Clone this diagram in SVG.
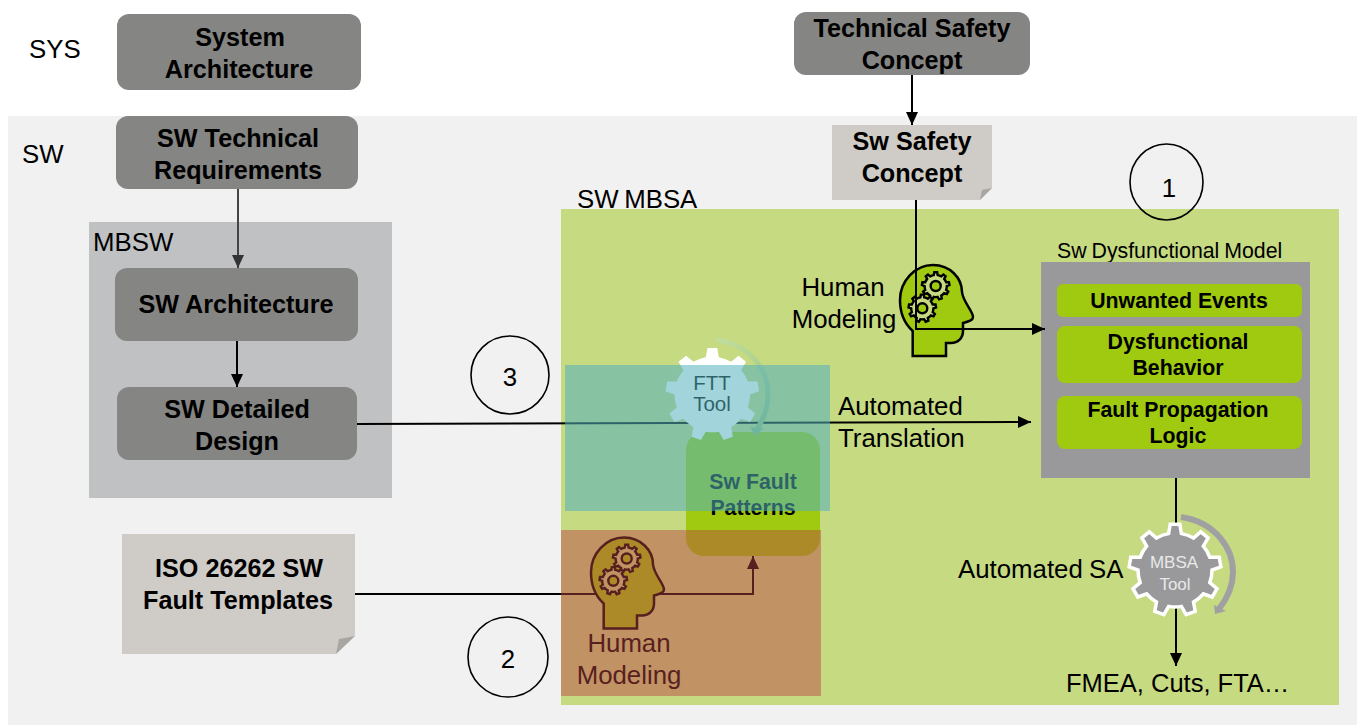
<svg xmlns="http://www.w3.org/2000/svg" xmlns:xlink="http://www.w3.org/1999/xlink" width="1362" height="725" viewBox="0 0 1362 725">
<style>
text{font-family:"Liberation Sans",Arial,sans-serif;fill:#000}
.t{font-size:25.8px}
.c{text-anchor:middle}
.b{font-size:25.2px;font-weight:bold;text-anchor:middle}
.g{font-size:21.3px;font-weight:bold;text-anchor:middle}
.dark{fill:#858583}
.note{fill:#cfcbc6}
.fold{fill:#a8a6a2}
.lime{fill:#9fca10}
.ln{fill:none;stroke:#000;stroke-width:2}
.num{fill:none;stroke:#000;stroke-width:1.6}
.head{fill:#9fca10;stroke:#000;stroke-width:2.5}
</style>
<defs>
<marker id="a" markerUnits="userSpaceOnUse" markerWidth="14" markerHeight="14" refX="13" refY="6" orient="auto"><path d="M0 0L13 6L0 12Z" fill="#000"/></marker>
<marker id="ag" markerUnits="userSpaceOnUse" markerWidth="14" markerHeight="14" refX="13" refY="6" orient="auto"><path d="M0 0L13 6L0 12Z" fill="#333"/></marker>
<linearGradient id="arcG" gradientUnits="userSpaceOnUse" x1="717" y1="340" x2="757" y2="433"><stop offset="0" stop-color="#c0dd9c"/><stop offset="1" stop-color="#93bd78"/></linearGradient>
<path id="gear" d="M-6.4-36.4L-4.8-45.7L4.8-45.7L6.4-36.4A37 37 0 0 1 18.5-32L25.7-38.1L33.1-32L28.3-23.8A37 37 0 0 1 34.8-12.7L44.2-12.7L45.9-3.2L37 0A37 37 0 0 1 34.8 12.7L42 18.7L37.2 27L28.3 23.8A37 37 0 0 1 18.5 32L20.2 41.3L11.1 44.6L6.4 36.4A37 37 0 0 1 -6.4 36.4L-11.1 44.6L-20.2 41.3L-18.5 32A37 37 0 0 1 -28.3 23.8L-37.2 27L-42 18.7L-34.8 12.7A37 37 0 0 1 -37 0L-45.9-3.2L-44.2-12.7L-34.8-12.7A37 37 0 0 1 -28.3-23.8L-33.1-32L-25.7-38.1L-18.5-32A37 37 0 0 1 -6.4-36.4Z"/>
<g id="headIcon">
<path class="head" d="M912.7 356V331C905 324 900 313 900 300C900 281 915 265 933 265C950 265 962 278 962 292C963 302 973 311 973 317C973 320 970 321 963 323V331C963 338 958 343 951 343H946V356Z"/>
<g transform="translate(935.7 286) scale(.3)"><use xlink:href="#gear" fill="#c6da82" stroke="#000" stroke-width="8"/></g>
<circle cx="935.7" cy="286" r="5" fill="#9fca10" stroke="#000" stroke-width="2.4"/>
<g transform="translate(922.3 308.3) scale(.3)"><use xlink:href="#gear" fill="#c6da82" stroke="#000" stroke-width="8"/></g>
<circle cx="922.3" cy="308.3" r="5" fill="#9fca10" stroke="#000" stroke-width="2.4"/>
</g>
</defs>

<rect width="1362" height="725" fill="#fff"/>
<g id="sw-region"><rect x="8" y="116" width="1349" height="609" fill="#f1f1f1"/><text class="t" x="22" y="163">SW</text></g>
<g id="sys-label"><text class="t" x="29" y="58">SYS</text></g>
<g id="mbsw-region"><rect x="89" y="222" width="303" height="276" fill="#c0c1c3"/><text class="t" x="93" y="251">MBSW</text></g>
<g id="mbsa-region"><rect x="561" y="209" width="778" height="496" fill="#c6da82"/><text class="t" x="577" y="208" word-spacing="-1.5">SW MBSA</text></g>

<g id="system-architecture"><rect class="dark" x="117" y="14" width="244" height="76" rx="12"/><text class="b" x="240" y="46">System</text><text class="b" x="239" y="78">Architecture</text></g>
<g id="technical-safety-concept"><rect class="dark" x="794" y="12" width="236" height="63" rx="12"/><text class="b" x="912" y="37">Technical Safety</text><text class="b" x="912" y="69">Concept</text></g>
<g id="sw-technical-requirements"><rect class="dark" x="116" y="116" width="242" height="73" rx="12"/><text class="b" x="238" y="147">SW Technical</text><text class="b" x="238" y="179">Requirements</text></g>
<g id="sw-architecture"><rect class="dark" x="115" y="268" width="243" height="73" rx="12"/><text class="b" x="236" y="313">SW Architecture</text></g>
<g id="sw-detailed-design"><rect class="dark" x="117" y="387" width="240" height="73" rx="12"/><text class="b" x="237" y="418">SW Detailed</text><text class="b" x="237" y="450">Design</text></g>
<g id="iso-templates"><path class="note" d="M122 534H355V636L336 654H122Z"/><path class="fold" d="M336 654L339 639L355 636Z"/><text class="b" x="239" y="577">ISO 26262 SW</text><text class="b" x="238" y="609">Fault Templates</text></g>
<g id="sw-safety-concept"><path class="note" d="M832 125H992V188L980 200H832Z"/><path class="fold" d="M980 200L982 190L992 188Z"/><text class="b" x="912" y="150">Sw Safety</text><text class="b" x="912" y="182">Concept</text></g>

<g id="sw-dysfunctional-model">
<text x="1057" y="258" font-size="21.3" word-spacing="-1">Sw Dysfunctional Model</text>
<rect x="1041" y="262" width="269" height="216" fill="#99999b"/>
<rect class="lime" x="1057" y="284" width="245" height="33" rx="6"/><text class="g" x="1179" y="308">Unwanted Events</text>
<rect class="lime" x="1057" y="326" width="245" height="57" rx="8"/><text class="g" x="1178" y="349">Dysfunctional</text><text class="g" x="1178" y="375">Behavior</text>
<rect class="lime" x="1057" y="396" width="245" height="53" rx="8"/><text class="g" x="1178" y="417">Fault Propagation</text><text class="g" x="1178" y="443">Logic</text>
</g>
<g id="sw-fault-patterns"><rect class="lime" x="686" y="432" width="134" height="124" rx="18"/><text class="g" x="753" y="489">Sw Fault</text><text class="g" x="753" y="515">Patterns</text></g>

<g id="human-modeling-top"><use xlink:href="#headIcon"/><text class="t c" x="843" y="296">Human</text><text class="t c" x="844" y="328">Modeling</text></g>

<g id="connectors">
<path class="ln" marker-end="url(#a)" d="M912 75V125"/>
<path d="M238 189V268" fill="none" stroke="#444" stroke-width="2" marker-end="url(#ag)"/>
<path class="ln" marker-end="url(#a)" d="M237 341V387"/>
<path class="ln" marker-end="url(#a)" d="M357 424L1031 422"/>
<path class="ln" marker-end="url(#a)" d="M355 594H753V556"/>
<path class="ln" marker-end="url(#a)" d="M916 200V329H1045"/>
<path class="ln" marker-end="url(#a)" d="M1176 478V666"/>
</g>

<g id="human-modeling-bottom"><use xlink:href="#headIcon" transform="translate(-309 272.5)"/><text class="t c" x="629" y="652">Human</text><text class="t c" x="629" y="684">Modeling</text></g>

<g id="ftt-tool">
<path d="M717 340C748 344 768 368 768 394C768 410 763 420 757 429" fill="none" stroke="url(#arcG)" stroke-width="5"/>
<path d="M750 427L764 428L755 436Z" fill="#93bd78"/>
<use xlink:href="#gear" transform="translate(712.3 394.5) scale(1.02)" fill="#fff"/>
<text class="c" x="712" y="390" font-size="20.5">FTT</text><text class="c" x="712" y="411" font-size="20.5">Tool</text>
</g>
<g id="mbsa-tool">
<path d="M1181 517C1215 522 1233 548 1233 572C1233 588 1226 600 1219 609" fill="none" stroke="#a0a0a3" stroke-width="6"/>
<path d="M1214 605L1226 611L1215 614Z" fill="#a0a0a3"/>
<use xlink:href="#gear" transform="translate(1175 570)" fill="#99999b" stroke="#fff" stroke-width="3.5"/>
<text class="c" x="1174" y="568" font-size="17" style="fill:#e9e9e9">MBSA</text><text class="c" x="1175" y="590" font-size="17" style="fill:#e9e9e9">Tool</text>
</g>

<g id="labels">
<text class="t" x="838" y="415">Automated</text><text class="t" x="838" y="447">Translation</text>
<text class="t" x="958" y="578" word-spacing="-1">Automated SA</text>
<text x="1066" y="692" style="font-size:25.5px">FMEA, Cuts, FTA…</text>
</g>

<g id="marker-1"><ellipse class="num" cx="1166.5" cy="182" rx="36.5" ry="38"/><text class="t c" x="1169" y="197">1</text></g>
<g id="marker-3"><circle class="num" cx="510" cy="375" r="39"/><text class="t c" x="510" y="386">3</text></g>
<g id="marker-2"><circle class="num" cx="508" cy="657" r="40"/><text class="t c" x="508" y="668">2</text></g>

<g id="highlights">
<rect x="565" y="365" width="265" height="146" fill="#53b0be" fill-opacity=".55"/>
<rect x="561" y="530" width="260" height="166" fill="#b94142" fill-opacity=".47"/>
</g>
</svg>
